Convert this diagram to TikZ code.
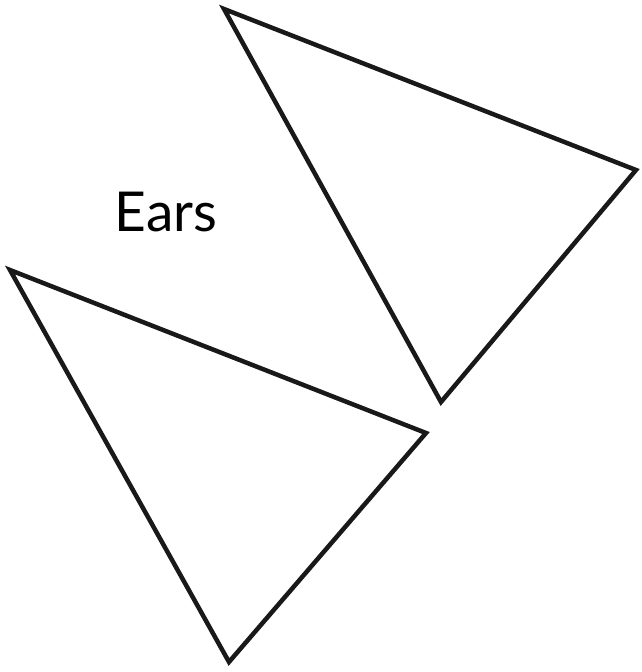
\documentclass[tikz,border=0pt]{standalone}
\usepackage{fontspec}
\setmainfont{Lato}
\usepackage{tikz}
\usetikzlibrary{positioning}
\tikzset{
  ear/.style   ={draw=black!90, line width=4.5pt, line join=miter},
  lbl/.style   ={font=\fontsize{55}{55}\selectfont, inner sep=0pt, anchor=base},
}
\begin{document}
\begin{tikzpicture}[x=1pt, y=-1pt]
    \useasboundingbox (0,0) rectangle (641,672);
    % upper ear
    \coordinate (ua) at (224,9);
    \coordinate (ub) at (636,170);
    \coordinate (uc) at (441,402);
    % lower ear
    \coordinate (la) at (10,270);
    \coordinate (lb) at (426,433);
    \coordinate (lc) at (229,662);
    \draw[ear] (ua) -- (ub) -- (uc) -- cycle;
    \draw[ear] (la) -- (lb) -- (lc) -- cycle;
    \node[lbl] (ears) at (166,231) {Ears};
  \end{tikzpicture}
\end{document}
